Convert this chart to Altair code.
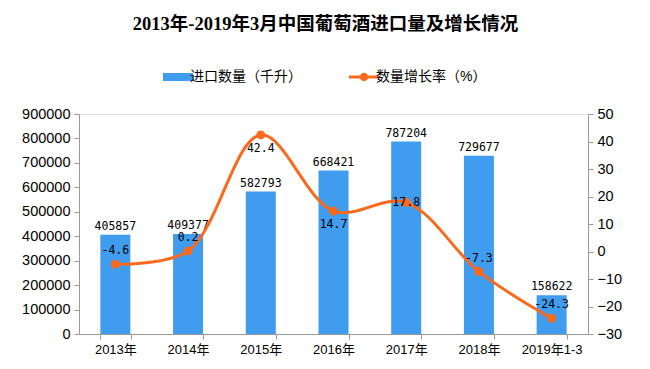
import altair as alt
import pandas as pd

years = ["2013年", "2014年", "2015年", "2016年", "2017年", "2018年", "2019年1-3"]
imports = [405857, 409377, 582793, 668421, 787204, 729677, 158622]
growth = [-4.6, 0.2, 42.4, 14.7, 17.8, -7.3, -24.3]
label_place = ["above", "above", "below", "below", "center", "above", "above"]
left_ticks = [0, 100000, 200000, 300000, 400000, 500000, 600000, 700000, 800000, 900000]
right_ticks = [-30, -20, -10, 0, 10, 20, 30, 40, 50]
s_bar = "进口数量（千升）"
s_line = "数量增长率（%）"

df = pd.DataFrame({"year": years, "imports": imports, "growth": growth, "place": label_place,
                   "sbar": [s_bar] * len(years), "sline": [s_line] * len(years)})

BLUE = "#3F9CEF"
ORANGE = "#FA6A1C"
CJK = "Liberation Sans, Noto Sans CJK SC"
MONO = "DejaVu Sans Mono, Noto Sans CJK SC"

xenc = alt.X("year:N", sort=years, title=None,
             scale=alt.Scale(paddingInner=0.58, paddingOuter=0.29),
             axis=alt.Axis(labelAngle=0, labelFont=CJK, labelFontSize=13, labelColor="#000",
                           domainColor="#999", tickColor="#999", tickBand="extent",
                           tickSize=5, labelPadding=4))

yl = alt.Y("imports:Q", title=None,
           scale=alt.Scale(domain=[0, 900000], nice=False),
           axis=alt.Axis(values=left_ticks, tickCount=10, grid=False, format="d",
                         labelOverlap=False, labelFlush=False,
                         labelFont="Liberation Sans", labelFontSize=14.5, labelColor="#000",
                         domainColor="#999", tickColor="#999", tickSize=5, labelPadding=4))

bars = alt.Chart(df).mark_bar(size=30).encode(
    x=xenc, y=yl,
    color=alt.Color("sbar:N",
                    scale=alt.Scale(domain=[s_bar], range=[BLUE]),
                    legend=alt.Legend(title=None, orient="none", legendX=89, legendY=-47,
                                      symbolType="M-1.5,-0.4H1.5V0.4H-1.5Z", symbolSize=400,
                                      symbolStrokeWidth=0, labelFont=CJK, labelFontSize=14,
                                      labelColor="#000", labelOffset=2)),
)
bar_text = alt.Chart(df).mark_text(baseline="bottom", dy=-3, font=MONO, fontSize=11.5, color="#000").encode(
    x=xenc, y=yl, text=alt.Text("imports:Q", format="d"))

left = alt.layer(bars, bar_text)

yr = alt.Y("growth:Q", title=None,
           scale=alt.Scale(domain=[-30, 50], nice=False),
           axis=alt.Axis(orient="right", values=right_ticks, tickCount=9, grid=False, format="d",
                         labelOverlap=False, labelFlush=False,
                         labelFont="Liberation Sans", labelFontSize=14.5, labelColor="#000",
                         domainColor="#999", tickColor="#999", tickSize=5, labelPadding=4))

line = alt.Chart(df).mark_line(interpolate="catmull-rom", color=ORANGE, strokeWidth=3).encode(
    x=xenc, y=yr)
points = alt.Chart(df).mark_point(filled=True, size=80, opacity=1).encode(
    x=xenc, y=yr,
    fill=alt.Fill("sline:N",
                  scale=alt.Scale(domain=[s_line], range=[ORANGE]),
                  legend=alt.Legend(title=None, orient="none", legendX=275, legendY=-47,
                                    symbolType="M-1.5,-0.15H1.5V0.15H-1.5Z M0.42,0 A0.42,0.42 0 1,1 -0.42,0 A0.42,0.42 0 1,1 0.42,0Z",
                                    symbolSize=400, symbolStrokeWidth=0, labelFont=CJK,
                                    labelFontSize=14, labelColor="#000", labelOffset=2)),
)
label_expr = "replace(format(datum.growth, '.1f'), '\u2212', '-')"


def glabels(place, baseline, dy):
    return alt.Chart(df).transform_filter(f"datum.place == '{place}'").transform_calculate(
        glabel=label_expr).mark_text(
        baseline=baseline, dy=dy, font=MONO, fontSize=11.5, color="#000").encode(
        x=xenc, y=yr, text="glabel:N")


right = alt.layer(line, points,
                  glabels("above", "bottom", -8),
                  glabels("below", "top", 8),
                  glabels("center", "middle", 0))

chart = alt.layer(left, right).resolve_scale(y="independent").properties(
    width=509, height=220,
    autosize=alt.AutoSizeParams(type="none"),
    padding={"left": 71, "top": 106, "right": 54, "bottom": 27},
    title=alt.TitleParams("2013年-2019年3月中国葡萄酒进口量及增长情况", anchor="middle",
                          font="Liberation Serif, Noto Sans CJK SC", fontSize=18.5, fontWeight="bold",
                          color="#000", offset=34, dx=-8),
).configure_view(stroke="transparent", strokeWidth=0).configure_axisRight(
    tickCount=9, labelOverlap=False
).configure(background="white")

chart.save("out.html", embed_options={"renderer": "svg", "actions": False})
